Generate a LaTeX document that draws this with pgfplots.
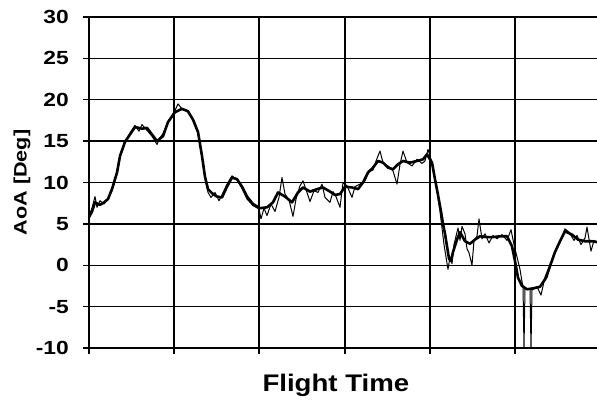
\documentclass[border=0pt]{standalone}
\usepackage{graphicx}
\usepackage{pgfplots}
\pgfplotsset{compat=1.18}
\usepackage{fontspec}
\setmainfont{Liberation Sans}
\begin{document}
\begin{tikzpicture}
\useasboundingbox (-89pt,-53pt) rectangle (508pt,348pt);
\begin{axis}[
  scale only axis, width=508pt, height=331pt,
  xmin=0, xmax=508, ymin=-10, ymax=30,
  axis x line=bottom, axis y line=left,
  axis line style={-, black, line width=1.3pt},
  ytick={-10,-5,...,30},
  xtick={0,85,170,256,341,426}, xticklabels={},
  grid=major, major grid style={black, line width=1.3pt},
  tick align=outside, major tick length=6pt,
  tick style={black, line width=1.3pt},
  /pgf/number format/assume math mode=true,
  yticklabel={\scalebox{1.2}[1]{\pgfmathprintnumber{\tick}}},
  yticklabel style={font=\fontsize{19}{20}\selectfont\bfseries, inner sep=0pt, anchor=east, xshift=-14pt},
  ylabel={\scalebox{1.2}[1]{AoA [Deg]}},
  ylabel style={font=\fontsize{18}{20}\selectfont\bfseries, at={(axis description cs:-0.132,0.5)}, anchor=center, rotate=0},
  xlabel={\scalebox{1.15}[1]{Flight Time}},
  xlabel style={font=\fontsize{24}{26}\selectfont\bfseries, at={(axis description cs:0.486,0)}, anchor=base, yshift=-44pt},
]
\addplot[black, line width=2.6pt, line join=round] coordinates {
(0,5.8)(3,6.5)(6,7.6)(11,7.3)(15,7.6)(19,8.0)(23,9.2)(28,11.2)(31,13.2)(36,14.9)
(41,15.8)(46,16.7)(53,16.5)(58,16.6)(63,15.8)(68,15.0)(74,15.6)(79,17.3)(86,18.5)
(93,18.9)(99,18.6)(104,17.6)(109,16.1)(113,13.2)(116,10.7)(119,9.2)(124,8.6)(128,8.3)
(133,8.2)(138,9.5)(143,10.6)(148,10.4)(153,9.5)(158,8.3)(164,7.4)(171,6.9)(178,7.0)
(184,7.6)(189,8.8)(196,8.3)(203,7.6)(209,8.8)(214,9.4)(221,8.9)(228,9.2)(234,9.4)
(241,8.9)(246,8.5)(251,8.6)(256,9.5)(263,9.4)(269,9.2)(274,10.0)(279,11.2)(284,11.8)
(289,12.6)(294,12.4)(299,11.8)(304,11.6)(309,12.2)(314,12.6)(321,12.4)(328,12.6)
(334,12.8)(338,13.4)(343,12.4)(346,10.4)(349,8.5)(352,6.5)(354,5.0)(356,3.8)(358,2.3)
(360,0.8)(362,0.5)(364,1.6)(368,3.1)(371,4.0)(376,2.9)(381,2.6)(386,3.1)(391,3.5)
(398,3.4)(404,3.4)(411,3.5)(418,3.5)(423,2.3)(426,0.5)(429,-1.5)(433,-2.5)(438,-2.9)
(444,-2.8)(451,-2.6)(456,-1.7)(461,-0.1)(466,1.6)(471,2.9)(476,4.1)(483,3.7)(489,3.1)
(496,2.9)(503,2.9)(508,2.8)
};
\addplot[black, line width=1pt, line join=round] coordinates {
(0,6.0)(3,6.9)(6,8.3)(8,7.0)(11,7.8)(15,7.4)(19,8.0)(23,9.0)(28,11.0)(31,13.0)(36,14.9)
(41,16.0)(46,16.9)(50,16.2)(53,17.0)(58,16.3)(63,15.6)(68,14.6)(71,15.4)(74,15.9)
(79,17.2)(86,18.7)(89,19.5)(93,18.9)(99,18.7)(104,17.5)(109,16.0)(113,13.0)(116,10.5)
(119,8.8)(122,8.2)(126,8.8)(130,7.8)(133,8.5)(138,9.8)(143,10.8)(148,10.3)(153,9.3)
(158,8.0)(164,7.2)(170,6.8)(172,5.6)(175,6.9)(178,6.0)(182,7.4)(186,6.5)(190,8.2)
(193,10.6)(196,8.6)(200,7.9)(204,5.9)(207,8.0)(211,9.6)(214,10.2)(218,8.8)(221,7.7)
(225,9.0)(229,8.8)(233,9.8)(236,8.2)(241,7.6)(244,8.9)(247,8.3)(251,7.0)(254,10.0)
(258,9.6)(263,8.2)(266,9.5)(271,9.8)(276,10.2)(280,11.3)(284,11.5)(287,12.6)(291,13.8)
(294,12.4)(299,12.0)(304,11.4)(308,9.8)(311,12.2)(314,13.8)(318,12.4)(323,12.0)
(328,12.8)(333,12.3)(336,12.6)(339,14.0)(342,12.8)(345,11.0)(348,9.0)(351,6.5)
(353,4.5)(355,2.5)(357,1.0)(359,-0.5)(361,1.0)(363,0.2)(365,2.5)(367,3.5)(369,4.5)
(371,3.0)(373,4.7)(376,3.8)(378,2.0)(380,1.5)(383,0.0)(385,3.0)(388,3.5)(390,5.6)
(393,3.2)(396,3.8)(400,2.7)(404,3.6)(408,3.2)(413,3.7)(418,3.0)(422,4.3)(425,2.5)
(428,1.0)(431,-0.5)(433,-2.0)(434,-2.5)(435,-10)(436,-2.8)(441,-2.9)(442,-10)(443,-3.0)
(448,-2.6)(452,-3.6)(455,-2.0)(458,-1.5)(461,-0.3)(466,1.5)(471,2.8)(476,4.4)(480,4.0)
(485,3.0)(488,3.6)(492,2.5)(496,3.3)(498,4.6)(502,1.7)(505,3.0)(508,2.8)
};
\end{axis}
\end{tikzpicture}
\end{document}
